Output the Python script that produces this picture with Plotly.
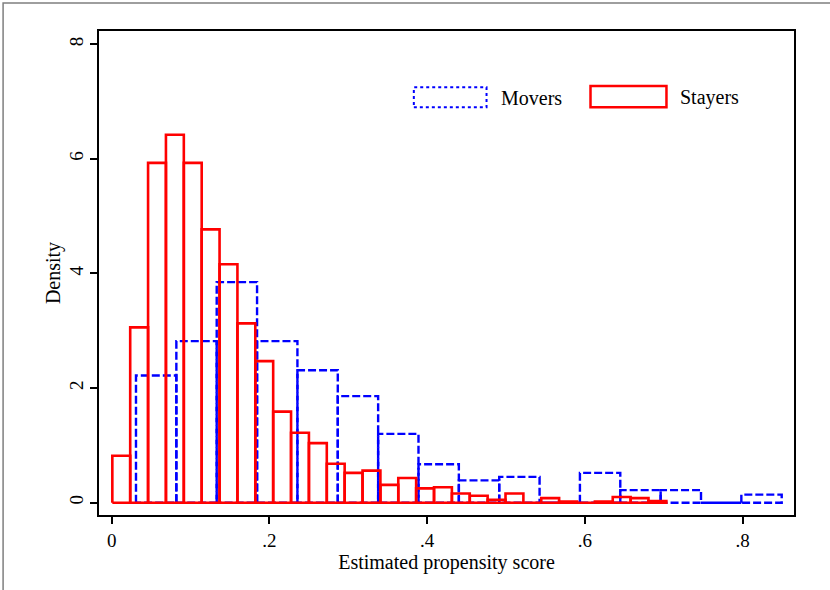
import plotly.graph_objects as go

# ---- data ----
stayers_start = 0.0008
stayers_width = 0.02266
stayers_density = [0.82, 3.06, 5.93, 6.42, 5.93, 4.77, 4.16, 3.13, 2.47, 1.59,
                   1.22, 1.04, 0.68, 0.52, 0.56, 0.31, 0.43, 0.25, 0.27, 0.16,
                   0.12, 0.05, 0.16, 0.0, 0.08, 0.02, 0.0, 0.02, 0.10, 0.08, 0.03]

movers_start = 0.0308
movers_width = 0.05117
movers_density = [2.22, 2.82, 3.85, 2.82, 2.31, 1.86, 1.20, 0.67, 0.39, 0.45,
                  0.0, 0.52, 0.22, 0.22, 0.0, 0.14]

x_ticks = [0, 0.2, 0.4, 0.6, 0.8]
x_ticklabels = ["0", ".2", ".4", ".6", ".8"]
y_ticks = [0, 2, 4, 6, 8]
y_ticklabels = ["0", "2", "4", "6", "8"]


def outline(start, width, heights):
    xs, ys = [], []
    for i, h in enumerate(heights):
        a = start + i * width
        b = a + width
        xs += [a, a, b, b, a, None]
        ys += [0, h, h, 0, 0, None]
    return xs, ys


FONT = "Liberation Serif"

fig = go.Figure()
mx, my = outline(movers_start, movers_width, movers_density)
fig.add_trace(go.Scatter(x=mx, y=my, mode="lines", name="Movers",
                         line=dict(color="#0000FF", width=2.4, dash="8px,3px"),
                         hoverinfo="skip", showlegend=False))
sx, sy = outline(stayers_start, stayers_width, stayers_density)
fig.add_trace(go.Scatter(x=sx, y=sy, mode="lines", name="Stayers",
                         line=dict(color="#FF0000", width=2.6),
                         hoverinfo="skip", showlegend=False))

# manual legend (Stata style)
fig.add_shape(type="rect", xref="paper", yref="paper",
              x0=0.453, x1=0.5576, y0=0.8424, y1=0.8837,
              line=dict(color="#0000FF", width=2, dash="dot"))
fig.add_shape(type="rect", xref="paper", yref="paper",
              x0=0.7072, x1=0.8165, y0=0.8424, y1=0.8864,
              line=dict(color="#FF0000", width=2.5))
fig.add_annotation(xref="paper", yref="paper", x=0.5753, y=0.862,
                   xanchor="left", yanchor="middle", showarrow=False,
                   text="Movers", font=dict(family=FONT, size=20, color="black"))
fig.add_annotation(xref="paper", yref="paper", x=0.8327, y=0.862,
                   xanchor="left", yanchor="middle", showarrow=False,
                   text="Stayers", font=dict(family=FONT, size=20, color="black"))

# outer gray frame
fig.add_shape(type="rect", xref="paper", yref="paper",
              x0=-0.138, x1=1.2, y0=-0.3, y1=1.0579,
              line=dict(color="#7f7f7f", width=1.5), layer="below")

fig.update_layout(
    width=830, height=590,
    margin=dict(l=99, r=36, t=31, b=75),
    paper_bgcolor="white", plot_bgcolor="white",
    font=dict(family=FONT, size=19, color="black"),
    xaxis=dict(range=[-0.0161, 0.8651], tickvals=x_ticks, ticktext=x_ticklabels,
               ticks="outside", ticklen=7, tickwidth=1.5, tickcolor="black",
               showline=True, mirror=True, linecolor="black", linewidth=1.5,
               showgrid=False, zeroline=False,
               title=dict(text="Estimated propensity score", font=dict(size=20), standoff=3)),
    yaxis=dict(range=[-0.215, 8.232], tickvals=y_ticks, ticktext=y_ticklabels,
               tickangle=-90,
               ticks="outside", ticklen=7, tickwidth=1.5, tickcolor="black",
               showline=True, mirror=True, linecolor="black", linewidth=1.5,
               showgrid=False, zeroline=False,
               title=dict(text="Density", font=dict(size=20), standoff=0)),
)

fig.write_html("out.html", config={"displayModeBar": False},
               post_script="document.body.style.margin='0';document.body.style.overflow='hidden';")
